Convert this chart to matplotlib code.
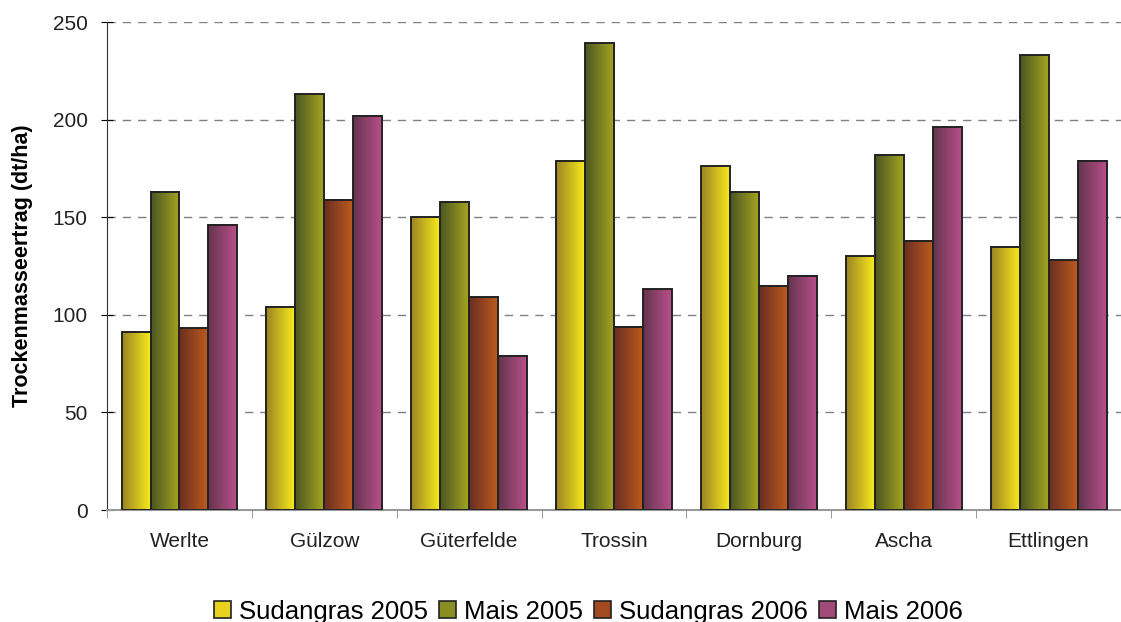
import numpy as np
import matplotlib
matplotlib.use("Agg")
import matplotlib.pyplot as plt
from matplotlib.colors import LinearSegmentedColormap
from matplotlib.patches import Patch

plt.rcParams['font.family'] = ['Liberation Sans', 'DejaVu Sans']

# Standorte und Erträge (dt/ha)
standorte = ['Werlte', 'Gülzow', 'Güterfelde', 'Trossin', 'Dornburg', 'Ascha', 'Ettlingen']
serien = ['Sudangras 2005', 'Mais 2005', 'Sudangras 2006', 'Mais 2006']
sudangras_2005 = [91, 104, 150, 179, 176, 130, 135]
mais_2005 = [163, 213, 158, 239, 163, 182, 233]
sudangras_2006 = [93, 159, 109, 94, 115, 138, 128]
mais_2006 = [146, 202, 79, 113, 120, 196, 179]
werte = [sudangras_2005, mais_2005, sudangras_2006, mais_2006]

# Farbverlauf je Serie: links dunkel, rechts hell
verlaeufe = [('#9c8424', '#f8ea1c'),
             ('#4c5622', '#a4a420'),
             ('#6a2e22', '#bc5a1e'),
             ('#64344e', '#b8508a')]
mittelfarben = ['#e8d21e', '#8a8e22', '#a44a20', '#a24a7a']

fig = plt.figure(figsize=(11.21, 6.22), dpi=100)
ax = fig.add_axes([0.0955, 0.18, 0.9045, 0.7846])

breite = 0.2
x = np.arange(len(standorte))
for i, (serie, vals) in enumerate(zip(serien, werte)):
    cmap = LinearSegmentedColormap.from_list(serie, verlaeufe[i])
    pos = x - 0.4 + 0.1 + i * breite
    bars = ax.bar(pos, vals, width=breite, facecolor='none', edgecolor='#222222',
                  linewidth=1.4, zorder=3)
    for b in bars:
        x0, y0 = b.get_x(), b.get_y()
        w, h = b.get_width(), b.get_height()
        grad = np.linspace(0, 1, 64).reshape(1, -1)
        ax.imshow(grad, cmap=cmap, aspect='auto', extent=(x0, x0 + w, y0, y0 + h),
                  origin='lower', zorder=2)

ax.set_xlim(-0.5, len(standorte) - 0.5)
ax.set_ylim(0, 250)
ax.set_yticks(np.arange(0, 251, 50))
ax.set_xticks(x)
ax.set_xticklabels(standorte)
ax.set_xticks(np.arange(-0.5, len(standorte), 1), minor=True)
ax.tick_params(axis='x', which='major', length=0, pad=16, labelsize=15, labelcolor='#222222')
ax.tick_params(axis='x', which='minor', length=6, color='#888888', direction='out')
ax.tick_params(axis='y', length=8, direction='inout', labelsize=15, labelcolor='#222222', pad=10)

ax.grid(axis='y', linestyle=(0, (6, 5)), color='#808080', linewidth=1, zorder=0)
for s in ['top', 'right']:
    ax.spines[s].set_visible(False)
ax.spines['left'].set_color('#333333')
ax.spines['bottom'].set_color('#999999')
ax.spines['bottom'].set_linewidth(1.5)

ax.set_ylabel('Trockenmasseertrag (dt/ha)', fontsize=15.5, fontweight='bold', labelpad=14)

handles = [Patch(facecolor=c, edgecolor='#222222', linewidth=1.2) for c in mittelfarben]
fig.legend(handles, serien, loc='lower center', bbox_to_anchor=(0.525, -0.04), ncol=4,
           frameon=False, fontsize=18.5, handlelength=0.65, handleheight=0.65,
           handletextpad=0.3, columnspacing=0.45)

fig.savefig('out.png', dpi=100)
